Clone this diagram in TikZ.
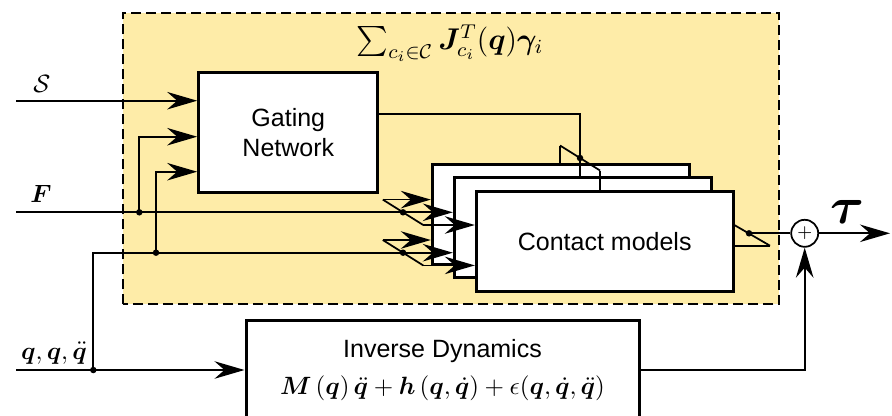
\documentclass[tikz,border=0pt]{standalone}
\usepackage[no-math]{fontspec}
\setsansfont{Liberation Sans}
\usepackage{amsmath,bm}
\usetikzlibrary{positioning,arrows.meta,calc}
\definecolor{regionyellow}{RGB}{254,236,168}

\begin{document}
\begin{tikzpicture}[
  x=0.4pt, y=0.4pt,
  >={Stealth[length=12pt,width=7pt,inset=4pt]},
  block/.style={draw, line width=1.2pt, fill=white, align=center, font=\sffamily},
  cmbox/.style={block, minimum width=102.7pt, minimum height=39.9pt},
  line/.style={->, line width=0.7pt},
  wire/.style={line width=0.7pt},
  dot/.style={circle, fill, inner sep=0pt, minimum size=2.6pt},
  adder/.style={circle, draw, line width=0.7pt, fill=white, inner sep=0pt, minimum size=10.8pt, font=\scriptsize},
  region/.style={draw, dash pattern=on 4pt off 2pt, line width=0.8pt, fill=regionyellow}
]
\useasboundingbox (0,0) rectangle (892,415);

% Contact force region
\path[region] (122.7,110.7) rectangle (779,402.3);
\node[font=\large] (sumlbl) at (450,372) {$\sum_{c_i\in\mathcal{C}}\bm{J}^T_{c_i}(\bm{q})\bm{\gamma}_i$};

% Blocks
\node[block, minimum width=71.7pt, minimum height=48pt] (gate) at (288.3,282.3) {Gating\\Network};
\node[cmbox] (cm1) at (560.7,200.8) {};
\node[cmbox] (cm2) at ([shift={(22,-13.5)}]cm1) {};
\node[cmbox] (cm3) at ([shift={(22,-13.5)}]cm2) {Contact models};
\node[block, minimum width=157.2pt, minimum height=39.4pt] (invdyn) at (442.5,45)
  {Inverse Dynamics\\[3pt]$\bm{M}\left(\bm{q}\right)\ddot{\bm{q}}+\bm{h}\left(\bm{q},\dot{\bm{q}}\right)+\epsilon(\bm{q},\dot{\bm{q}},\ddot{\bm{q}})$};
\node[adder] (sum) at (804.7,181.7) {$+$};

% Signal ends and labels
\coordinate (inS) at (16,314.3);
\coordinate (inF) at (16,202.7);
\coordinate (inQ) at (16,45);
\coordinate (tauend) at (890,181.7);
\coordinate (gateF) at ($(gate.west)+(0,-4)$);
\coordinate (gateQ) at ($(gate.west)+(0,-39)$);
\coordinate (gateout) at ($(gate.east)+(0,18.4)$);
\node (lblS) at (42,331) {$\mathcal{S}$};
\node (lblF) at (41,221) {$\bm{F}$};
\node (lblQ) at (54,62) {$\bm{q},\bm{q},\ddot{\bm{q}}$};
\node[font=\huge] (lbltau) at (847,203) {$\bm{\tau}$};

% Branch points
\node[dot] (fsplit) at (139.3,202.7) {};
\node[dot] (qsplit) at (156,162.3) {};
\node[dot] (qbot) at (93.3,45) {};
\node[dot] (ffan) at (403,202.7) {};
\node[dot] (qfan) at (403,162.3) {};
\node[dot] (gfan) at (580,257) {};
\node[dot] (ofan) at (749,181.7) {};

% Inputs
\draw[line] (inS) -- (inS -| gate.west);
\draw[line] (inF) -- (inF -| cm2.west);
\draw[line] (fsplit.center) |- (gateF);
\draw[line] (qsplit.center) |- (gateQ);
\draw[line] (qbot.center) |- (qfan -| cm2.west);
\draw[line] (inQ) -- (invdyn.west);

% Fan out to the contact models
\foreach \f in {ffan, qfan} {
  \draw[wire] ($(\f)+(-20.2,12.7)$) coordinate (\f-a) -- ($(\f)+(20.2,-12.7)$) coordinate (\f-b);
  \draw[line] (\f-a) -- (\f-a -| cm1.west);
  \draw[line] (\f-b) -- (\f-b -| cm3.west);
}

% Gating weights
\draw[wire] (gateout) -| (gfan.center) -- (gfan |- cm2.north);
\draw[wire] ($(gfan)+(-20,12.5)$) coordinate (gfan-a) -- ($(gfan)+(20,-12.5)$) coordinate (gfan-b);
\draw[wire] (gfan-a) -- (gfan-a |- cm1.north);
\draw[wire] (gfan-b) -- (gfan-b |- cm3.north);

% Outputs
\draw[wire] ($(ofan)+(-14.7,8.3)$) -- ($(ofan)+(21,-12.4)$) coordinate (ofan-b);
\draw[wire] (ofan-b) -- (ofan-b -| cm3.east);
\draw[wire] (ofan.center) -- (sum.west);
\draw[line] (invdyn.east) -| (sum.south);
\draw[line] (sum.east) -- (tauend);

\end{tikzpicture}
\end{document}
